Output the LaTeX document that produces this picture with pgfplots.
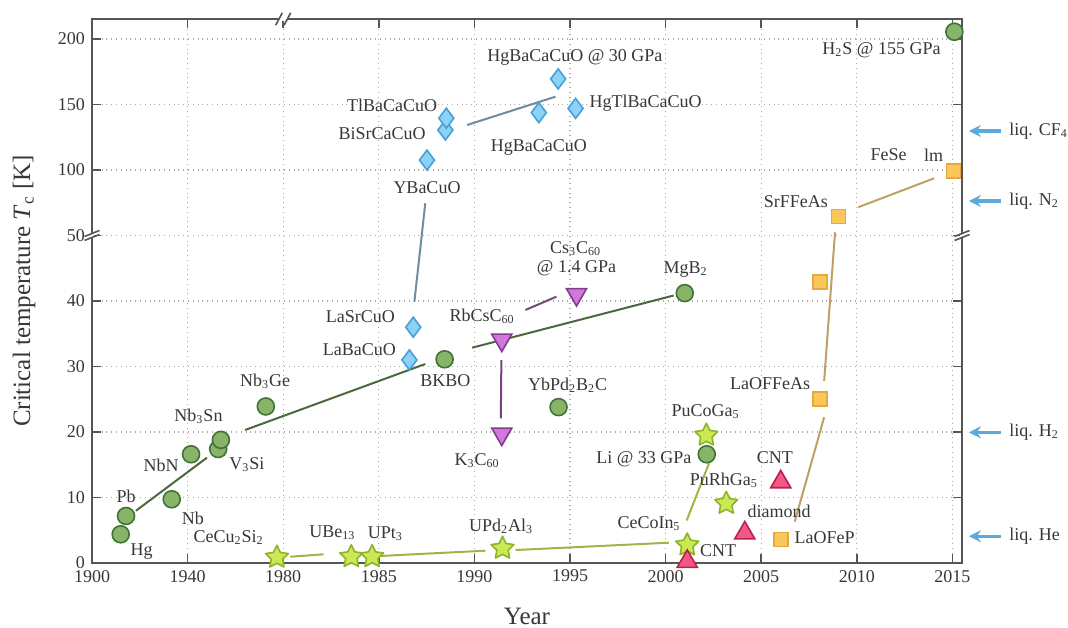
\documentclass[border=0pt]{standalone}
\usepackage{fontspec}
\setmainfont{Liberation Serif}
\usepackage{pgfplots}
\pgfplotsset{compat=1.18}
\usetikzlibrary{arrows.meta}

\definecolor{txt}{RGB}{55,55,55}
\definecolor{axc}{RGB}{85,85,85}
\definecolor{gridc}{RGB}{170,170,170}
\definecolor{cfill}{RGB}{135,180,105}
\definecolor{cdraw}{RGB}{65,115,55}
\definecolor{dfill}{RGB}{140,210,245}
\definecolor{ddraw}{RGB}{70,160,220}
\definecolor{tfill}{RGB}{210,120,220}
\definecolor{tdraw}{RGB}{130,60,140}
\definecolor{sfill}{RGB}{205,232,85}
\definecolor{sdraw}{RGB}{140,180,40}
\definecolor{ufill}{RGB}{240,90,130}
\definecolor{udraw}{RGB}{190,30,80}
\definecolor{qfill}{RGB}{250,200,90}
\definecolor{qdraw}{RGB}{230,170,60}
\definecolor{lgreen}{RGB}{75,105,60}
\definecolor{lblue}{RGB}{110,140,160}
\definecolor{lpurp}{RGB}{120,70,120}
\definecolor{lolive}{RGB}{160,180,70}
\definecolor{ltan}{RGB}{190,160,100}
\definecolor{arrc}{RGB}{90,170,220}

\newcommand\lf{\fontsize{9}{10}\selectfont}

% filled five-pointed star
\pgfdeclareplotmark{fstar}{%
  \pgfpathmoveto{\pgfpointpolar{90}{\pgfplotmarksize}}%
  \pgfpathlineto{\pgfpointpolar{126}{0.5\pgfplotmarksize}}%
  \pgfpathlineto{\pgfpointpolar{162}{\pgfplotmarksize}}%
  \pgfpathlineto{\pgfpointpolar{198}{0.5\pgfplotmarksize}}%
  \pgfpathlineto{\pgfpointpolar{234}{\pgfplotmarksize}}%
  \pgfpathlineto{\pgfpointpolar{270}{0.5\pgfplotmarksize}}%
  \pgfpathlineto{\pgfpointpolar{306}{\pgfplotmarksize}}%
  \pgfpathlineto{\pgfpointpolar{342}{0.5\pgfplotmarksize}}%
  \pgfpathlineto{\pgfpointpolar{18}{\pgfplotmarksize}}%
  \pgfpathlineto{\pgfpointpolar{54}{0.5\pgfplotmarksize}}%
  \pgfpathclose
  \pgfusepathqfillstroke}

\tikzset{
  cryo/.style={arrc, line width=1.6pt, -{Stealth[length=6pt, width=6pt, inset=2pt]}},
  lb/.style={font=\lf, text=txt, inner sep=0pt},
}

\begin{document}
\begin{tikzpicture}
\useasboundingbox (-46pt,-32pt) rectangle (488pt,281.5pt);
\begin{axis}[
    scale only axis,
    width=435pt, height=272pt,
    xmin=1970, xmax=2015.5,
    ymin=0, ymax=83.05,
    xtick={1970,1975,1980,1985,1990,1995,2000,2005,2010,2015},
    xticklabels={1900,1940,1980,1985,1990,1995,2000,2005,2010,2015},
    ytick={0,10,20,30,40,50,60,70,80},
    yticklabels={0,10,20,30,40,50,100,150,200},
    tick align=inside,
    major tick length=4.5pt,
    tick style={axc, line width=0.8pt},
    axis line style={axc, line width=0.9pt},
    grid=major,
    major grid style={gridc, dotted, line width=0.6pt},
    tick label style={font=\fontsize{9}{10}\selectfont, text=txt},
    label style={font=\fontsize{12.5}{14}\selectfont, text=txt},
    xlabel={Year},
    ylabel={Critical temperature \textit{T}\textsubscript{c} [K]},
    xlabel style={at={(rel axis cs:0.5,0)}, anchor=center, yshift=-26.5pt},
    ylabel style={at={(rel axis cs:0,0.5)}, anchor=center, yshift=34pt},
    clip=false,
  ]
  % trend lines
  \addplot[lgreen, line width=1pt] coordinates {(1972.30,7.98) (1976.01,16.08)};
  \addplot[lgreen, line width=1pt] coordinates {(1978.01,20.31) (1987.43,30.38)};
  \addplot[lgreen, line width=1pt] coordinates {(1989.88,32.87) (2000.42,40.84)};
  \addplot[lblue, line width=1pt] coordinates {(1987.43,54.92) (1986.86,39.89)};
  \addplot[lblue, line width=1pt] coordinates {(1989.62,66.87) (1994.24,71.19)};
  \addplot[lpurp, line width=1pt] coordinates {(1992.67,38.63) (1994.29,40.66)};
  \addplot[lpurp, line width=1pt] coordinates {(1991.41,30.99) (1991.38,22.09)};
  \addplot[lolive, line width=1pt] coordinates {(1980.37,0.96) (1982.11,1.33)};
  \addplot[lolive, line width=1pt] coordinates {(1985.04,1.07) (1990.58,1.88)};
  \addplot[lolive, line width=1pt] coordinates {(1992.15,1.98) (2000.17,3.10)};
  \addplot[lolive, line width=1pt] coordinates {(2001.10,6.49) (2002.27,15.22)};
  \addplot[ltan, line width=1pt] coordinates {(2006.75,6.31) (2008.29,22.24)};
  \addplot[ltan, line width=1pt] coordinates {(2008.29,27.79) (2008.86,50.49)};
  \addplot[ltan, line width=1pt] coordinates {(2010.07,54.31) (2014.04,58.73)};

  % conventional (circles)
  \addplot[only marks, mark=*, mark size=4.25pt,
    mark options={fill=cfill, draw=cdraw, line width=0.8pt}] coordinates {
    (1971.50,4.38) (1971.78,7.18) (1974.17,9.73) (1975.18,16.6)
    (1976.60,17.4) (1976.74,18.8) (1979.09,23.9) (1988.44,31.1)
    (1994.40,23.8) (2001.00,41.2) (2002.15,16.6) (2015.10,81.1)};
  % cuprates (diamonds)
  \addplot[only marks, mark=diamond*, mark size=5pt,
    mark options={fill=dfill, draw=ddraw, line width=0.8pt}] coordinates {
    (1986.60,31.0) (1986.80,36.0) (1987.52,61.5) (1988.48,66.1)
    (1988.53,67.9) (1993.37,68.75) (1994.38,73.9) (1995.29,69.4)};
  % fullerides (triangles down)
  \addplot[only marks, mark=triangle*, mark size=5.8pt,
    mark options={fill=tfill, draw=tdraw, line width=0.8pt, rotate=180}] coordinates {
    (1991.43,34.05) (1991.43,19.7) (1995.34,41.0)};
  % heavy fermions (stars)
  \addplot[only marks, mark=fstar, mark size=6pt,
    mark options={fill=sfill, draw=sdraw, line width=0.8pt, line join=round}] coordinates {
    (1979.67,0.87) (1983.56,0.96) (1984.65,0.96) (1991.47,2.24)
    (2001.13,2.75) (2002.13,19.5) (2003.17,9.1)};
  % carbon (triangles up)
  \addplot[only marks, mark=triangle*, mark size=5.8pt,
    mark options={fill=ufill, draw=udraw, line width=0.8pt}] coordinates {
    (2001.13,0.23) (2004.14,4.57) (2006.02,12.37)};
  % iron based (squares)
  \addplot[only marks, mark=square*, mark size=3.5pt,
    mark options={fill=qfill, draw=qdraw, line width=0.8pt}] coordinates {
    (2006.04,3.6) (2008.06,25.0) (2008.06,42.9) (2009.03,52.9) (2015.05,59.85)};

  % labels
  \node[lb] at (axis cs:1972.60,1.73) {Hg};
  \node[lb] at (axis cs:1971.78,10.12) {Pb};
  \node[lb] at (axis cs:1975.27,6.82) {Nb};
  \node[lb] at (axis cs:1973.61,14.85) {NbN};
  \node[lb] at (axis cs:1978.10,14.96) {V\textsubscript{3}Si};
  \node[lb] at (axis cs:1975.57,22.34) {Nb\textsubscript{3}Sn};
  \node[lb] at (axis cs:1979.06,27.68) {Nb\textsubscript{3}Ge};
  \node[lb] at (axis cs:1977.14,3.92) {CeCu\textsubscript{2}Si\textsubscript{2}};
  \node[lb] at (axis cs:1982.57,4.58) {UBe\textsubscript{13}};
  \node[lb] at (axis cs:1985.34,4.53) {UPt\textsubscript{3}};
  \node[lb] at (axis cs:1991.40,5.54) {UPd\textsubscript{2}Al\textsubscript{3}};
  \node[lb] at (axis cs:1999.13,5.95) {CeCoIn\textsubscript{5}};
  \node[lb] at (axis cs:2002.74,1.88) {CNT};
  \node[lb] at (axis cs:2005.93,7.83) {diamond};
  \node[lb] at (axis cs:2008.32,3.92) {LaOFeP};
  \node[lb] at (axis cs:2003.05,12.67) {PuRhGa\textsubscript{5}};
  \node[lb] at (axis cs:2005.71,16.14) {CNT};
  \node[lb] at (axis cs:1998.86,15.83) {Li @ 33 GPa};
  \node[lb] at (axis cs:2002.09,23.10) {PuCoGa\textsubscript{5}};
  \node[lb] at (axis cs:2005.46,27.43) {LaOFFeAs};
  \node[lb] at (axis cs:1990.14,15.62) {K\textsubscript{3}C\textsubscript{60}};
  \node[lb] at (axis cs:1994.88,27.18) {YbPd\textsubscript{2}B\textsubscript{2}C};
  \node[lb] at (axis cs:1988.48,27.83) {BKBO};
  \node[lb] at (axis cs:1983.98,32.52) {LaBaCuO};
  \node[lb] at (axis cs:1984.03,37.60) {LaSrCuO};
  \node[lb] at (axis cs:1990.40,37.60) {RbCsC\textsubscript{60}};
  \node[lb] at (axis cs:1995.29,48.05) {Cs\textsubscript{3}C\textsubscript{60}};
  \node[lb] at (axis cs:1995.34,44.99) {@ 1.4 GPa};
  \node[lb] at (axis cs:2001.05,44.73) {MgB\textsubscript{2}};
  \node[lb] at (axis cs:1987.52,57.36) {YBaCuO};
  \node[lb] at (axis cs:1985.17,65.60) {BiSrCaCuO};
  \node[lb] at (axis cs:1985.69,69.92) {TlBaCaCuO};
  \node[lb] at (axis cs:1993.37,63.40) {HgBaCaCuO};
  \node[lb] at (axis cs:1995.25,77.21) {HgBaCaCuO @ 30 GPa};
  \node[lb] at (axis cs:1998.95,70.23) {HgTlBaCaCuO};
  \node[lb] at (axis cs:2011.29,78.32) {H\textsubscript{2}S @ 155 GPa};
  \node[lb] at (axis cs:2011.66,62.29) {FeSe};
  \node[lb] at (axis cs:2014.01,62.29) {lm};
  \node[lb] at (axis cs:2006.81,55.16) {SrFFeAs};

  % cryogen levels
  \draw[cryo] (axis cs:2017.54,65.95) -- (axis cs:2015.86,65.95);
  \draw[cryo] (axis cs:2017.54,55.27) -- (axis cs:2015.86,55.27);
  \draw[cryo] (axis cs:2017.54,19.95) -- (axis cs:2015.86,19.95);
  \draw[cryo] (axis cs:2017.54,4.08) -- (axis cs:2015.86,4.08);
  \node[lb, anchor=west] at (axis cs:2017.96,65.95) {liq. CF\textsubscript{4}};
  \node[lb, anchor=west] at (axis cs:2017.96,55.27) {liq. N\textsubscript{2}};
  \node[lb, anchor=west] at (axis cs:2017.96,19.95) {liq. H\textsubscript{2}};
  \node[lb, anchor=west] at (axis cs:2017.96,4.08) {liq. He};

  \coordinate (tb) at (axis cs:1980,83.05);
  \coordinate (lb) at (axis cs:1970,50);
  \coordinate (rb) at (axis cs:2015.5,50);
\end{axis}
% axis breaks
\fill[white] ([xshift=-2.1pt,yshift=-1pt]tb) rectangle ([xshift=2.1pt,yshift=1pt]tb);
\draw[axc, line width=0.8pt] ([xshift=-3.75pt,yshift=-3.1pt]tb) -- ([xshift=-0.45pt,yshift=3.1pt]tb);
\draw[axc, line width=0.8pt] ([xshift=0.45pt,yshift=-3.1pt]tb) -- ([xshift=3.75pt,yshift=3.1pt]tb);
\fill[white] ([xshift=-1pt,yshift=-1pt]lb) rectangle ([xshift=1pt,yshift=1pt]lb);
\draw[axc, line width=0.8pt] ([xshift=-3.75pt,yshift=-0.5pt]lb) -- ([xshift=3.75pt,yshift=2.5pt]lb);
\draw[axc, line width=0.8pt] ([xshift=-3.75pt,yshift=-2.5pt]lb) -- ([xshift=3.75pt,yshift=0.5pt]lb);
\fill[white] ([xshift=-1pt,yshift=-1pt]rb) rectangle ([xshift=1pt,yshift=1pt]rb);
\draw[axc, line width=0.8pt] ([xshift=-3.75pt,yshift=-0.5pt]rb) -- ([xshift=3.75pt,yshift=2.5pt]rb);
\draw[axc, line width=0.8pt] ([xshift=-3.75pt,yshift=-2.5pt]rb) -- ([xshift=3.75pt,yshift=0.5pt]rb);
\end{tikzpicture}
\end{document}
